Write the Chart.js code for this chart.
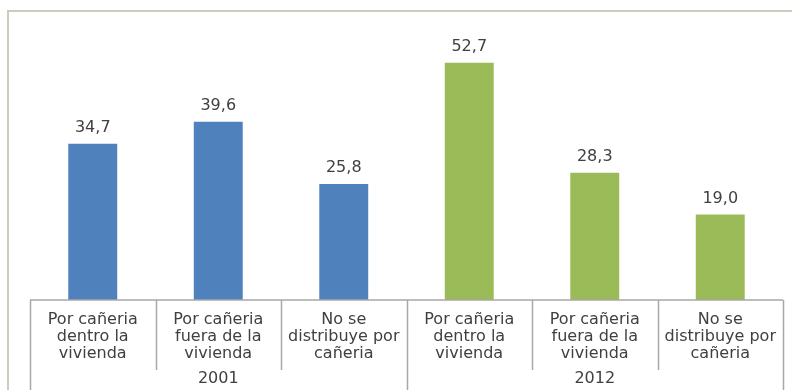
<!DOCTYPE html>
<html>
<head>
<meta charset="utf-8">
<script src="https://cdn.jsdelivr.net/npm/chart.js@4/dist/chart.umd.min.js"></script>
<style>
    html, body { margin: 0; padding: 0; background: #ffffff; }
    #wrap { position: relative; width: 792px; height: 390px; overflow: hidden; }
    #frame { position: absolute; left: 7px; top: 10px; right: -4px; bottom: -4px;
             border-top: 2px solid #c6cebc; border-left: 2px solid #c6cebc; }
    #grafico { position: absolute; left: 0; top: 0; }
</style>
</head>
<body>
<div id="wrap">
    <div id="frame"></div>
    <canvas id="grafico" width="792" height="390"></canvas>
</div>
<script>
// ==== Datos ====
const categorias = [
    ['Por cañeria', 'dentro la', 'vivienda'],
    ['Por cañeria', 'fuera de la', 'vivienda'],
    ['No se', 'distribuye por', 'cañeria']
];
const grupos = ['2001', '2012'];
const valores2001 = [34.7, 39.6, 25.8];
const valores2012 = [52.7, 28.3, 19.0];

// ==== Colores ====
const colorGrupo = ['#4F81BD', '#9BBB59'];
const textColor = '#404040';
const lineColor = '#a8a8a8';
const fuente = 'DejaVu Sans';

const etiquetas = grupos.flatMap(() => categorias);
const valores = valores2001.concat(valores2012);
const colores = grupos.flatMap((g, i) => categorias.map(() => colorGrupo[i]));

// ==== Etiquetas de valor sobre las barras ====
const valorPlugin = {
    id: 'valorPlugin',
    afterDatasetsDraw(chart) {
        const ctx = chart.ctx;
        const meta = chart.getDatasetMeta(0);
        ctx.save();
        ctx.font = '16px "' + fuente + '"';
        ctx.fillStyle = textColor;
        ctx.textAlign = 'center';
        ctx.textBaseline = 'middle';
        meta.data.forEach((bar, i) => {
            ctx.fillText(valores[i].toFixed(1).replace('.', ','), bar.x, bar.y - 16);
        });
        ctx.restore();
    }
};

// ==== Eje con divisiones y etiquetas de grupo ====
const ejePlugin = {
    id: 'ejePlugin',
    afterDraw(chart) {
        const ctx = chart.ctx;
        const x = chart.scales.x;
        const y0 = chart.chartArea.bottom;
        const n = categorias.length;
        ctx.save();
        ctx.strokeStyle = lineColor;
        ctx.lineWidth = 1.5;
        ctx.beginPath();
        ctx.moveTo(x.getPixelForValue(-0.5), y0);
        ctx.lineTo(x.getPixelForValue(etiquetas.length - 0.5), y0);
        for (let i = 0; i <= etiquetas.length; i++) {
            const px = Math.round(x.getPixelForValue(i - 0.5)) + 0.5;
            ctx.moveTo(px, y0);
            ctx.lineTo(px, i % n === 0 ? chart.height : y0 + 70);
        }
        ctx.stroke();

        ctx.font = '16px "' + fuente + '"';
        ctx.fillStyle = textColor;
        ctx.textAlign = 'center';
        ctx.textBaseline = 'middle';
        grupos.forEach((g, i) => {
            const cx = x.getPixelForValue(i * n + (n - 1) / 2);
            ctx.fillText(g, cx, y0 + 79);
        });
        ctx.restore();
    }
};

new Chart(document.getElementById('grafico'), {
    type: 'bar',
    data: {
        labels: etiquetas,
        datasets: [{
            data: valores,
            backgroundColor: colores,
            borderWidth: 0,
            categoryPercentage: 1,
            barPercentage: 0.39
        }]
    },
    options: {
        responsive: false,
        animation: false,
        layout: { padding: { left: 30, right: 9, top: 30, bottom: 0 } },
        plugins: {
            legend: { display: false },
            tooltip: { enabled: false }
        },
        scales: {
            y: { display: false, min: 0, max: 60 },
            x: {
                grid: { display: false },
                border: { display: false },
                ticks: {
                    color: textColor,
                    padding: 3,
                    maxRotation: 0,
                    autoSkip: false,
                    font: { family: fuente, size: 16, lineHeight: '17px' }
                },
                afterFit: s => { s.height = 90; }
            }
        }
    },
    plugins: [valorPlugin, ejePlugin]
});
</script>
</body>
</html>
